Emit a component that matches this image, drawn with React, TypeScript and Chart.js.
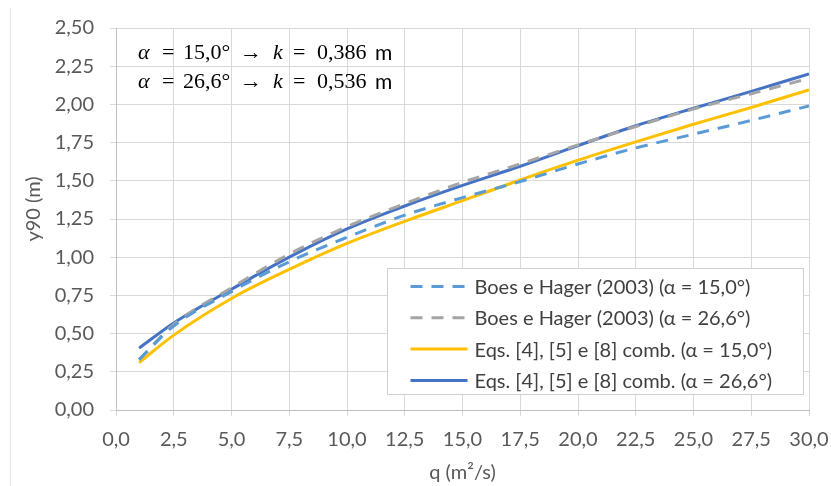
import React, { useEffect, useRef } from "react";
import { Chart, registerables } from "chart.js";

Chart.register(...registerables);

// ---------- data ----------
const qValues = [1, 2.5, 5, 7.5, 10, 12.5, 15, 17.5, 20, 22.5, 25, 27.5, 30];
const boesHager15 = [0.33, 0.55, 0.775, 0.97, 1.13, 1.275, 1.39, 1.495, 1.61, 1.715, 1.805, 1.895, 1.99];
const boesHager266 = [0.33, 0.56, 0.8, 1.02, 1.2, 1.35, 1.49, 1.61, 1.735, 1.855, 1.97, 2.07, 2.17];
const eqs15 = [0.31, 0.49, 0.73, 0.92, 1.09, 1.235, 1.37, 1.505, 1.635, 1.755, 1.87, 1.98, 2.095];
const eqs266 = [0.405, 0.57, 0.79, 1.0, 1.185, 1.335, 1.47, 1.595, 1.73, 1.86, 1.975, 2.085, 2.2];

const seriesLabels = [
  "Boes e Hager (2003) (α = 15,0°)",
  "Boes e Hager (2003) (α = 26,6°)",
  "Eqs. [4], [5] e [8] comb. (α = 15,0°)",
  "Eqs. [4], [5] e [8] comb. (α = 26,6°)",
];
const seriesColors = ["#5B9BD5", "#A5A5A5", "#FFC000", "#4472C4"];
const seriesDashed = [true, true, false, false];

const annotationAlphas = ["15,0°", "26,6°"];
const annotationKs = ["0,386", "0,536"];

const xMin = 0;
const xMax = 30;
const xStep = 2.5;
const yMin = 0;
const yMax = 2.5;
const yStep = 0.25;
const xTitle = "q (m²/s)";
const yTitle = "y90 (m)";

const FONT = "Lato";
const TEXT_COLOR = "#595959";
const DASH = [12, 9];

const fmt = (v: number, d: number) => v.toFixed(d).replace(".", ",");

const decorPlugin = {
  id: "decor",
  beforeDraw(chart: any) {
    const ctx = chart.ctx;
    ctx.save();
    ctx.strokeStyle = "#E3E3E3";
    ctx.lineWidth = 1;
    ctx.beginPath();
    ctx.moveTo(10.5, 8);
    ctx.lineTo(10.5, chart.height);
    ctx.stroke();
    ctx.restore();
  },
  afterDraw(chart: any) {
    const ctx = chart.ctx;
    const area = chart.chartArea;
    ctx.save();

    // y axis title
    ctx.fillStyle = TEXT_COLOR;
    ctx.font = `20px ${FONT}`;
    ctx.textAlign = "center";
    ctx.textBaseline = "middle";
    ctx.translate(34, 209);
    ctx.rotate(-Math.PI / 2);
    ctx.fillText(yTitle, 0, 0);
    ctx.setTransform(1, 0, 0, 1, 0, 0);

    // annotation text
    const size = 22;
    const serif = `${size}px "Liberation Serif"`;
    const serifIt = `italic ${size}px "Liberation Serif"`;
    const sans = `${size - 1}px ${FONT}`;
    ctx.fillStyle = "#000000";
    ctx.textBaseline = "middle";
    ctx.textAlign = "left";
    annotationAlphas.forEach((a, i) => {
      const y = area.top + 25 + i * 29;
      const x0 = area.left;
      const parts: [string, string, number][] = [
        ["α", serifIt, 22],
        ["=", serif, 46],
        [a, serif, 67],
        ["→", serif, 124],
        ["k", serifIt, 157],
        ["=", serif, 177],
        [annotationKs[i], serif, 201],
        ["m", sans, 259],
      ];
      parts.forEach(([t, f, dx]) => {
        ctx.font = f;
        ctx.fillText(t, x0 + dx, y);
      });
    });

    // legend box
    const lx = 387.5;
    const ly = 268.5;
    const lw = 416;
    const lh = 126;
    ctx.fillStyle = "#FFFFFF";
    ctx.fillRect(lx, ly, lw, lh);
    ctx.strokeStyle = "#D0D0D0";
    ctx.lineWidth = 1;
    ctx.strokeRect(lx, ly, lw, lh);
    ctx.font = `20px ${FONT}`;
    ctx.textBaseline = "middle";
    chart.data.datasets.forEach((ds: any, i: number) => {
      const ry = ly + 18 + i * 31.3;
      ctx.strokeStyle = ds.borderColor;
      ctx.lineWidth = 3;
      ctx.setLineDash(ds.borderDash || []);
      ctx.beginPath();
      ctx.moveTo(lx + 23, ry);
      ctx.lineTo(lx + 80, ry);
      ctx.stroke();
      ctx.setLineDash([]);
      ctx.fillStyle = "#404040";
      ctx.fillText(ds.label, lx + 87, ry + 1);
    });
    ctx.restore();
  },
};

export default function App() {
  const ref = useRef<HTMLCanvasElement | null>(null);
  useEffect(() => {
    document.body.style.margin = "0";
    const canvas = ref.current;
    if (!canvas) return;
    const datasets = [boesHager15, boesHager266, eqs15, eqs266].map((vals, i) => ({
      label: seriesLabels[i],
      data: qValues.map((q, j) => ({ x: q, y: vals[j] })),
      borderColor: seriesColors[i],
      backgroundColor: seriesColors[i],
      borderWidth: 3,
      borderDash: seriesDashed[i] ? DASH : [],
      borderCapStyle: "butt",
      pointRadius: 0,
      cubicInterpolationMode: "monotone",
      fill: false,
    }));
    const chart = new Chart(canvas, {
      type: "line",
      data: { datasets: datasets as any },
      options: {
        responsive: false,
        animation: false,
        events: [],
        layout: { padding: { left: 0, right: 22, top: 28, bottom: 0 } },
        plugins: { legend: { display: false }, tooltip: { enabled: false } },
        scales: {
          x: {
            type: "linear",
            min: xMin,
            max: xMax,
            afterFit: (s: any) => {
              s.height = 76;
              s.paddingLeft = 0;
              s.paddingRight = 0;
            },
            afterBuildTicks: (s: any) => {
              const t = [];
              for (let v = xMin; v <= xMax + 1e-9; v += xStep) t.push({ value: v });
              s.ticks = t;
            },
            ticks: {
              callback: (v: any) => fmt(Number(v), 1),
              font: { family: FONT, size: 20 },
              color: TEXT_COLOR,
              padding: 12,
              maxRotation: 0,
              autoSkip: false,
            },
            grid: { color: "#D9D9D9", lineWidth: 1, tickLength: 6, drawTicks: true },
            border: { color: "#BFBFBF", width: 1 },
            title: {
              display: true,
              text: xTitle,
              font: { family: FONT, size: 20 },
              color: TEXT_COLOR,
              padding: { top: 0, bottom: 1 },
            },
          },
          y: {
            type: "linear",
            min: yMin,
            max: yMax,
            afterFit: (s: any) => {
              s.width = 116;
              s.paddingTop = 0;
              s.paddingBottom = 0;
            },
            afterBuildTicks: (s: any) => {
              const t = [];
              for (let v = yMin; v <= yMax + 1e-9; v += yStep) t.push({ value: Math.round(v * 100) / 100 });
              s.ticks = t;
            },
            ticks: {
              callback: (v: any) => fmt(Number(v), 2),
              font: { family: FONT, size: 20 },
              color: TEXT_COLOR,
              padding: 16,
              autoSkip: false,
            },
            grid: { color: "#D9D9D9", lineWidth: 1, tickLength: 6, drawTicks: true },
            border: { color: "#BFBFBF", width: 1 },
            title: { display: false },
          },
        },
      },
      plugins: [decorPlugin],
    });
    return () => chart.destroy();
  }, []);
  return (
    <div style={{ width: 831, height: 486, position: "relative" }}>
      <canvas ref={ref} width={831} height={486} style={{ display: "block" }} />
    </div>
  );
}
